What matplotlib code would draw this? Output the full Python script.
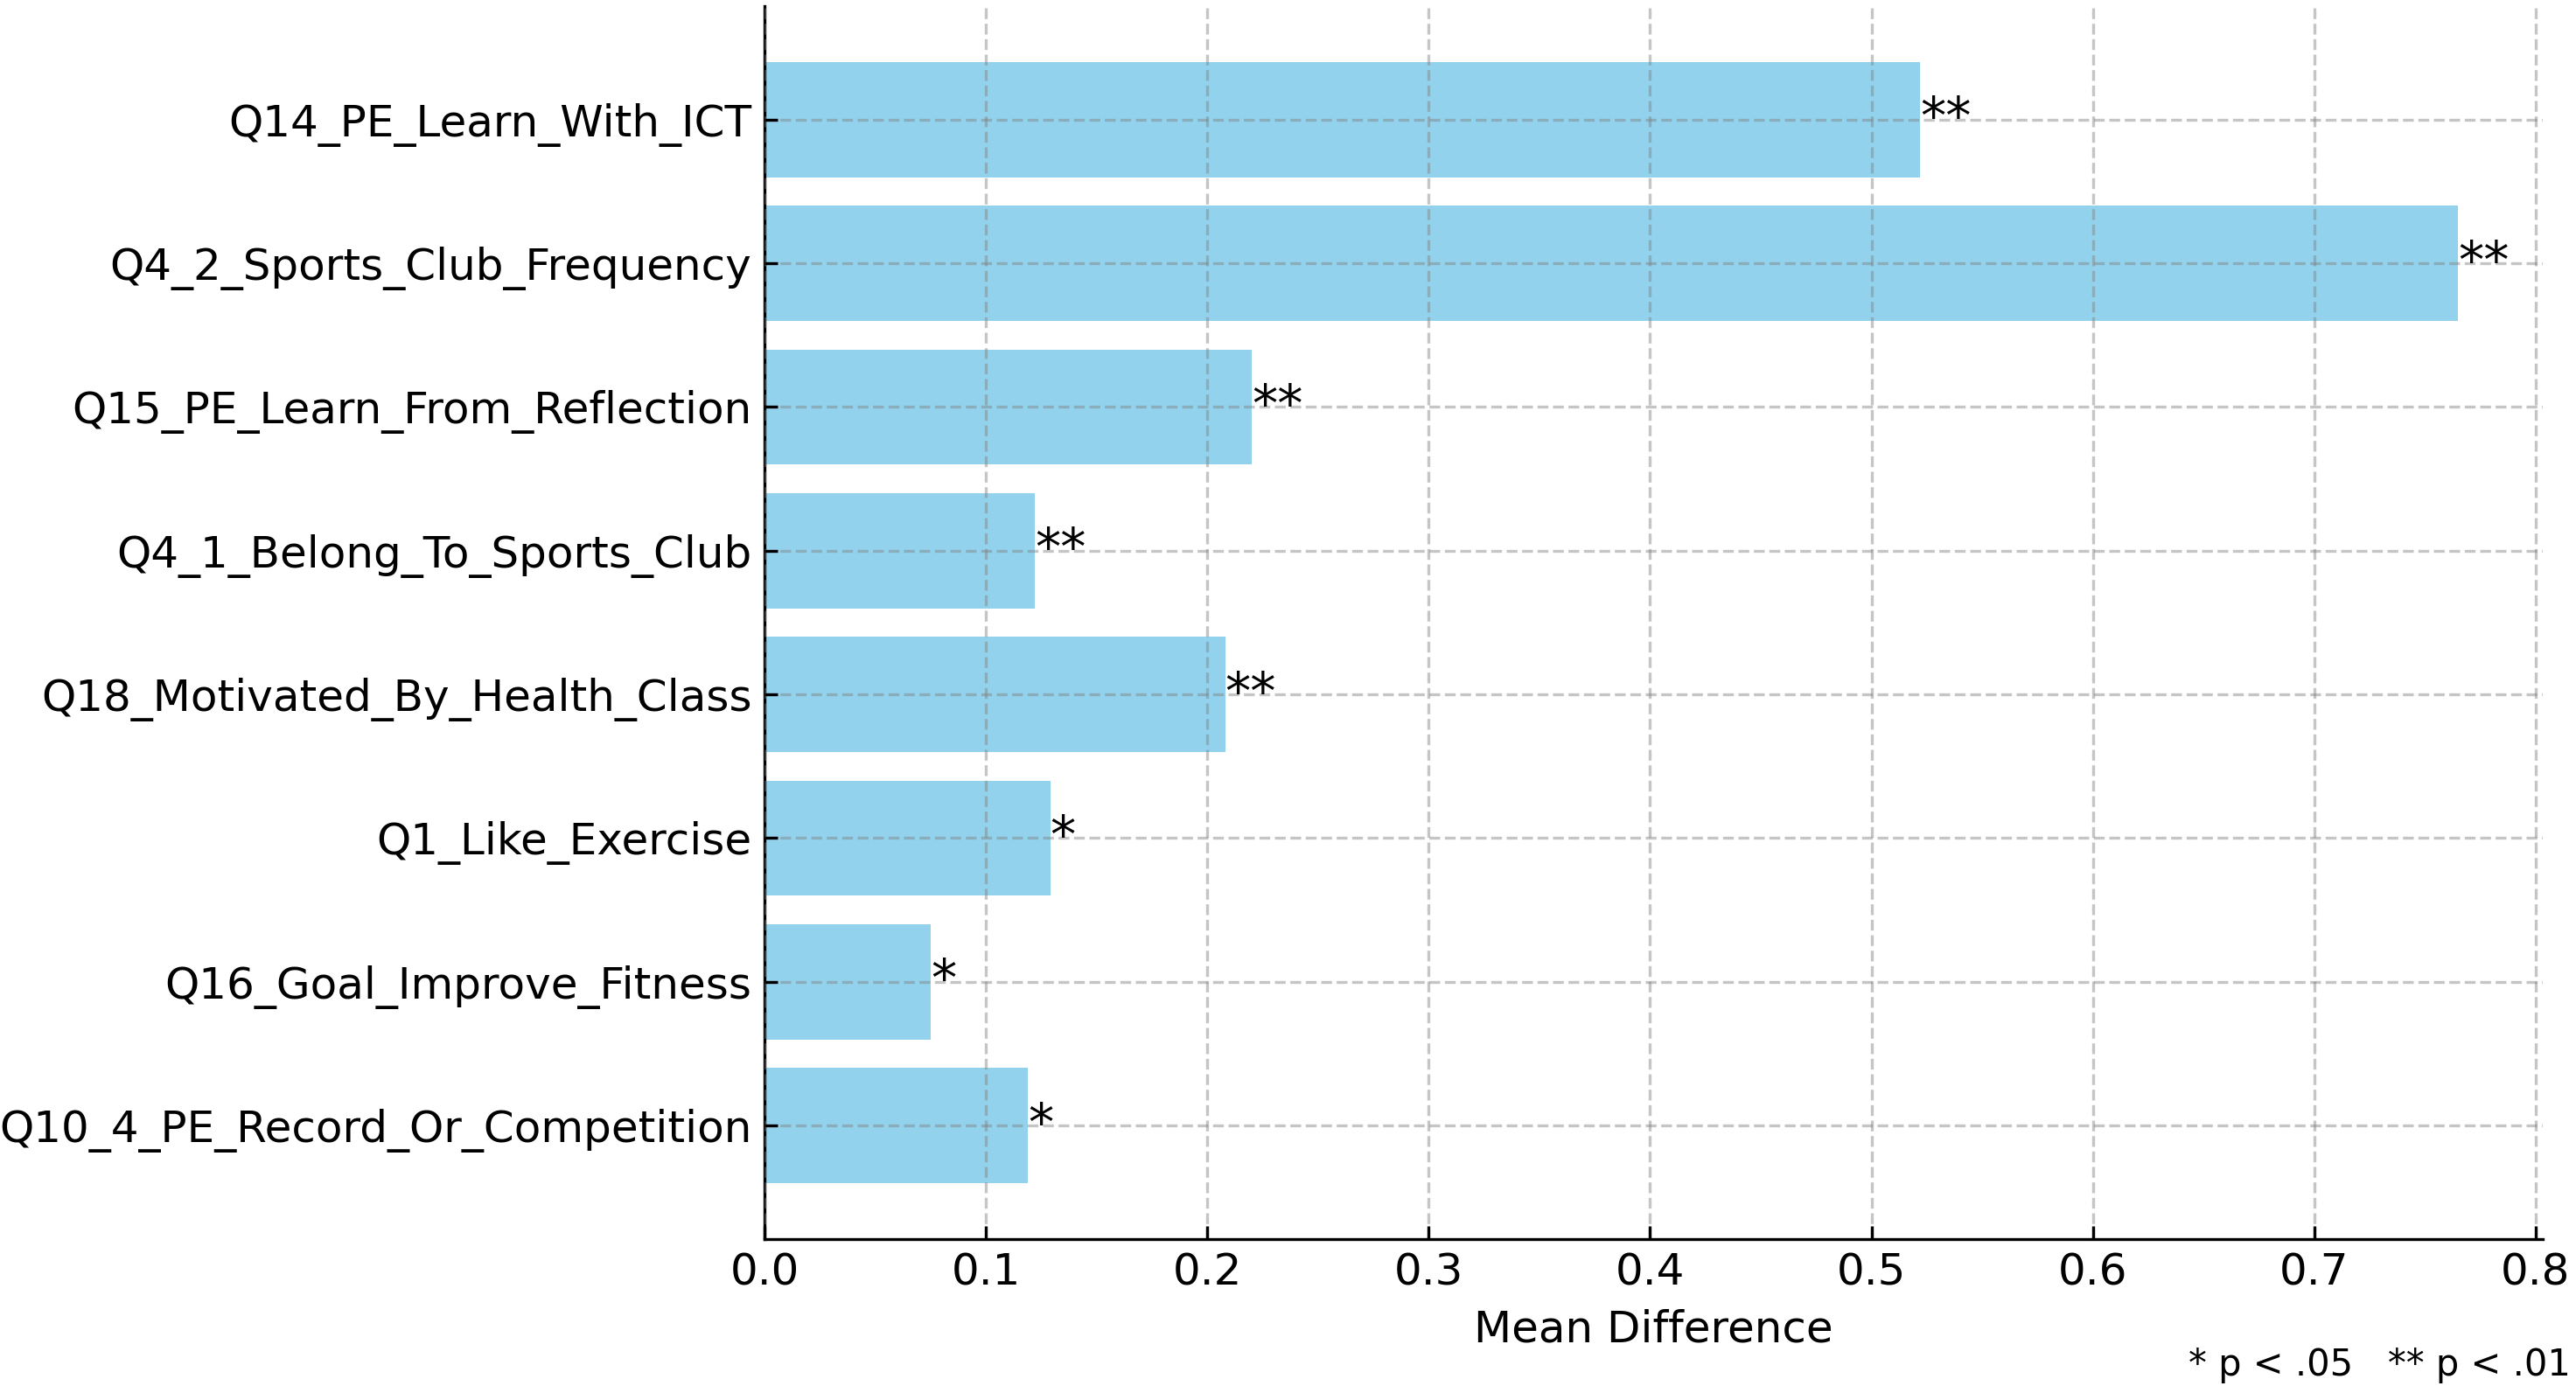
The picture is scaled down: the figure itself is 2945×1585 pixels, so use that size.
import matplotlib
matplotlib.use("Agg")
import matplotlib.pyplot as plt
import numpy as np

variaveis = [
    "Q14_PE_Learn_With_ICT",
    "Q4_2_Sports_Club_Frequency",
    "Q15_PE_Learn_From_Reflection",
    "Q4_1_Belong_To_Sports_Club",
    "Q18_Motivated_By_Health_Class",
    "Q1_Like_Exercise",
    "Q16_Goal_Improve_Fitness",
    "Q10_4_PE_Record_Or_Competition",
]
diferenca_media = [0.522, 0.765, 0.220, 0.122, 0.208, 0.129, 0.075, 0.119]
significancia = ["**", "**", "**", "**", "**", "*", "*", "*"]

fig = plt.figure(figsize=(2945 / 300, 1585 / 300), dpi=300)
ax = fig.add_axes([0.2968, 0.106, 0.9871 - 0.2968, 0.9956 - 0.106])

y = np.arange(len(variaveis))
bars = ax.barh(y, diferenca_media, height=0.8, color="skyblue", alpha=0.9)
ax.set_yticks(y)
ax.set_yticklabels(variaveis, fontsize=12)
ax.invert_yaxis()

# asteriscos de significancia ao lado de cada barra
for bar, sig in zip(bars, significancia):
    ax.text(
        bar.get_width(),
        bar.get_y() + bar.get_height() / 2,
        sig,
        ha="left", va="center",
        fontsize=14, color="black"
    )

ax.set_xlabel("Mean Difference", fontsize=12)
ax.tick_params(axis="x", direction="in", labelsize=12)
ax.tick_params(axis="y", direction="in")
ax.grid(True, linestyle="--", color="gray", alpha=0.45, zorder=3)
ax.set_axisbelow(False)
ax.spines["top"].set_visible(False)
ax.spines["right"].set_visible(False)

fig.text(0.998, 0.0076, "* p < .05   ** p < .01", ha="right", va="baseline", fontsize=10)

fig.savefig("out.png", dpi=300)
